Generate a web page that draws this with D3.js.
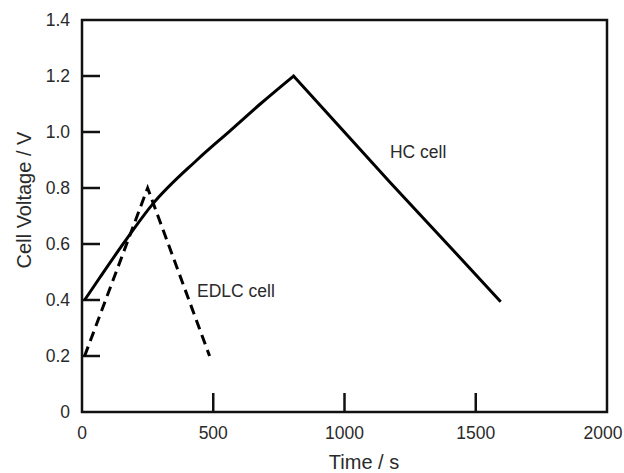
<!DOCTYPE html>
<html><head><meta charset="utf-8">
<script src="https://cdn.jsdelivr.net/npm/d3@7"></script>
<style>
body{margin:0;background:#fff;}
text{font-family:"Liberation Sans",Arial,Helvetica,sans-serif;fill:#2a2a2a;}
</style></head>
<body><svg id="c" width="624" height="473"></svg>
<script>
// Data
const hcChargeTime    = [10, 70, 158, 266, 438, 565, 679, 806];
const hcChargeVoltage = [0.40, 0.483, 0.602, 0.739, 0.90, 1.005, 1.10, 1.20];
const hcDischargeTime    = [806, 1009, 1174, 1390, 1595];
const hcDischargeVoltage = [1.20, 0.99, 0.82, 0.602, 0.394];
const edlcTime    = [10, 250, 486];
const edlcVoltage = [0.20, 0.80, 0.20];
const xTicks = [0, 500, 1000, 1500, 2000];
const yTicks = [0, 0.2, 0.4, 0.6, 0.8, 1.0, 1.2, 1.4];
const yTickLabels = ["0", "0.2", "0.4", "0.6", "0.8", "1.0", "1.2", "1.4"];
const labels = [
  {text: "HC cell", t: 1173, v: 0.907},
  {text: "EDLC cell", t: 438, v: 0.41}
];

const svg = d3.select("#c");
const L = 82, R = 607, T = 20, B = 412;
const x = d3.scaleLinear().domain([0, 2000]).range([L, R]);
const y = d3.scaleLinear().domain([0, 1.4]).range([B, T]);

// Frame
svg.append("rect").attr("x", L).attr("y", T).attr("width", R - L).attr("height", B - T)
  .attr("fill", "none").attr("stroke", "#111").attr("stroke-width", 2.5);

// Inward ticks
svg.selectAll(".yt").data(yTicks.filter(d => d > 0 && d < 1.4)).enter().append("line")
  .attr("x1", L).attr("x2", L + 18).attr("y1", d => y(d)).attr("y2", d => y(d))
  .attr("stroke", "#111").attr("stroke-width", 2.5);
svg.selectAll(".xt").data(xTicks.filter(d => d > 0 && d < 2000)).enter().append("line")
  .attr("x1", d => x(d)).attr("x2", d => x(d)).attr("y1", B).attr("y2", B - 19)
  .attr("stroke", "#111").attr("stroke-width", 2.5);

// Tick labels
svg.selectAll(".yl").data(yTicks).enter().append("text")
  .attr("x", L - 12).attr("y", d => y(d)).attr("dy", "0.36em")
  .attr("text-anchor", "end").attr("font-size", 17.5)
  .text((d, i) => yTickLabels[i]);
svg.selectAll(".xl").data(xTicks).enter().append("text")
  .attr("x", d => Math.min(x(d), 623 - 20)).attr("y", 439)
  .attr("text-anchor", "middle").attr("font-size", 17.5)
  .text(d => d);

// Axis titles
svg.append("text").attr("x", 364).attr("y", 469).attr("text-anchor", "middle")
  .attr("font-size", 20).text("Time / s");
svg.append("text").attr("transform", "translate(31,200) rotate(-90)")
  .attr("text-anchor", "middle").attr("font-size", 20).text("Cell Voltage / V");

// Lines
const toPts = (ts, vs) => ts.map((t, i) => [t, vs[i]]);
const smooth = d3.line().x(d => x(d[0])).y(d => y(d[1])).curve(d3.curveMonotoneX);
const straight = d3.line().x(d => x(d[0])).y(d => y(d[1]));
const hcPath = smooth(toPts(hcChargeTime, hcChargeVoltage)) +
  straight(toPts(hcDischargeTime, hcDischargeVoltage)).replace(/^M/, "L");
svg.append("path").attr("d", hcPath).attr("fill", "none")
  .attr("stroke", "#000").attr("stroke-width", 3).attr("stroke-linejoin", "miter");
svg.append("path").attr("d", straight(toPts(edlcTime, edlcVoltage))).attr("fill", "none")
  .attr("stroke", "#000").attr("stroke-width", 3).attr("stroke-dasharray", "10,6");

// Annotations
svg.selectAll(".ann").data(labels).enter().append("text")
  .attr("x", d => x(d.t)).attr("y", d => y(d.v)).attr("font-size", 17.5)
  .text(d => d.text);
</script></body></html>
